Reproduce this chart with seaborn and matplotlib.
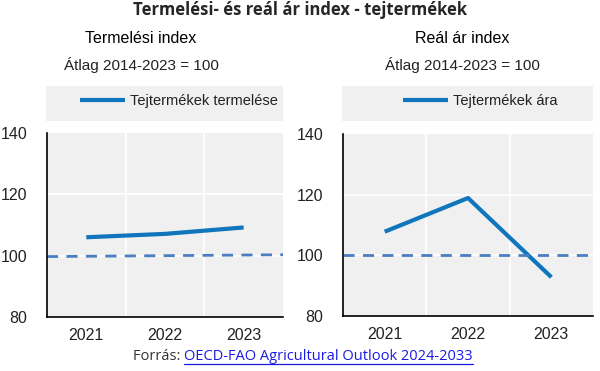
import pandas as pd
import matplotlib.pyplot as plt
import seaborn as sns
from matplotlib.patches import Rectangle
from matplotlib.ticker import FixedLocator

# --- Data ---
years = [2021, 2022, 2023]
production_index = [106.0, 107.1, 109.2]
real_price_index = [107.8, 118.9, 92.8]
avg_x = [2020.5, 2023.5]
avg_production = [99.7, 100.3]
avg_price = [100.0, 100.0]

suptitle = 'Termelési- és reál ár index - tejtermékek'
titles = ['Termelési index', 'Reál ár index']
subtitle = 'Átlag 2014-2023 = 100'
legend_labels = ['Tejtermékek termelése', 'Tejtermékek ára']

sns.set_style('white')
plt.rcParams['font.family'] = ['Liberation Sans', 'DejaVu Sans']

blue = '#0F75BC'
dash_blue = '#4A7EC1'
bg = '#F0F0F0'
txt = '#222222'
fs = 11

fig = plt.figure(figsize=(6, 3.71), dpi=100)
ax1 = fig.add_axes([0.0783, 0.1456, 0.3933, 0.4959])
ax2 = fig.add_axes([0.5717, 0.1482, 0.4167, 0.4906])

panels = [
    (ax1, production_index, avg_production, legend_labels[0], titles[0], 0.235, 0.298),
    (ax2, real_price_index, avg_price, legend_labels[1], titles[1], 0.770, 0.800),
]

for ax, vals, avg, lab, title, tx, lx in panels:
    ax.set_facecolor(bg)
    df = pd.DataFrame({'year': years, 'value': vals})
    sns.lineplot(data=df, x='year', y='value', ax=ax, color=blue, linewidth=3,
                 legend=False, solid_capstyle='butt')
    ax.plot(avg_x, avg, color=dash_blue, linewidth=2, dashes=(4, 3))
    ax.set_xlim(2020.5, 2023.5)
    ax.set_ylim(80, 140)
    ax.set_xticks(years)
    ax.set_yticks([80, 100, 120, 140])
    ax.xaxis.set_minor_locator(FixedLocator([2021.5, 2022.5, 2023.5]))
    ax.yaxis.set_minor_locator(FixedLocator([140]))
    ax.tick_params(axis='x', which='major', length=0, labelsize=fs + 0.5,
                   labelcolor=txt, pad=8)
    ax.tick_params(axis='y', which='major', length=0, labelsize=fs + 0.5,
                   labelcolor=txt, pad=14)
    ax.tick_params(axis='both', which='minor', direction='in', length=5,
                   width=1.2, color='black')
    ax.grid(False)
    for x in [2021.5, 2022.5]:
        ax.axvline(x, color='white', linewidth=1.2, zorder=0.5)
    for y in [100, 120]:
        ax.axhline(y, color='white', linewidth=1.2, zorder=0.5)
    ax.set_xlabel('')
    ax.set_ylabel('')
    for s in ['top', 'right']:
        ax.spines[s].set_visible(False)
    for s in ['left', 'bottom']:
        ax.spines[s].set_color('black')
        ax.spines[s].set_linewidth(1.2)

    # legend box
    pos = ax.get_position()
    fig.add_artist(Rectangle((pos.x0 - 0.0017, 0.674), pos.width + 0.0017, 0.094,
                             transform=fig.transFigure, facecolor=bg,
                             edgecolor='none', zorder=-1))
    handle = plt.Line2D([], [], color=blue, linewidth=3, solid_capstyle='butt')
    fig.legend([handle], [lab], loc='center', bbox_to_anchor=(lx, 0.728),
               bbox_transform=fig.transFigure, frameon=False, fontsize=fs - 0.5,
               handlelength=3.1, handletextpad=0.3, labelcolor=txt)

    fig.text(tx, 0.895, title, ha='center', va='center', fontsize=fs + 0.5,
             color='black')
    fig.text(tx, 0.826, subtitle, ha='center', va='center', fontsize=fs,
             color=txt)

fig.text(0.5, 0.972, suptitle, ha='center', va='center', fontsize=12,
         fontweight='bold', family=['Open Sans', 'DejaVu Sans'])
t1 = fig.text(0.222, 0.04, 'Forrás: ', ha='left', va='center', fontsize=10.5,
              color='#333333', family=['Open Sans', 'DejaVu Sans'])
fig.canvas.draw()
bb = t1.get_window_extent()
x0 = bb.x1 / fig.bbox.width
t2 = fig.text(x0, 0.04, 'OECD-FAO Agricultural Outlook 2024-2033',
              ha='left', va='center', fontsize=10.5, color='#1A1AE6',
              family=['Open Sans', 'DejaVu Sans'])
fig.canvas.draw()
x1 = t2.get_window_extent().x1 / fig.bbox.width
fig.add_artist(plt.Line2D([x0, x1], [0.019, 0.019], transform=fig.transFigure,
                          color='#1A1AE6', linewidth=0.9))

fig.savefig('out.png', dpi=100)
